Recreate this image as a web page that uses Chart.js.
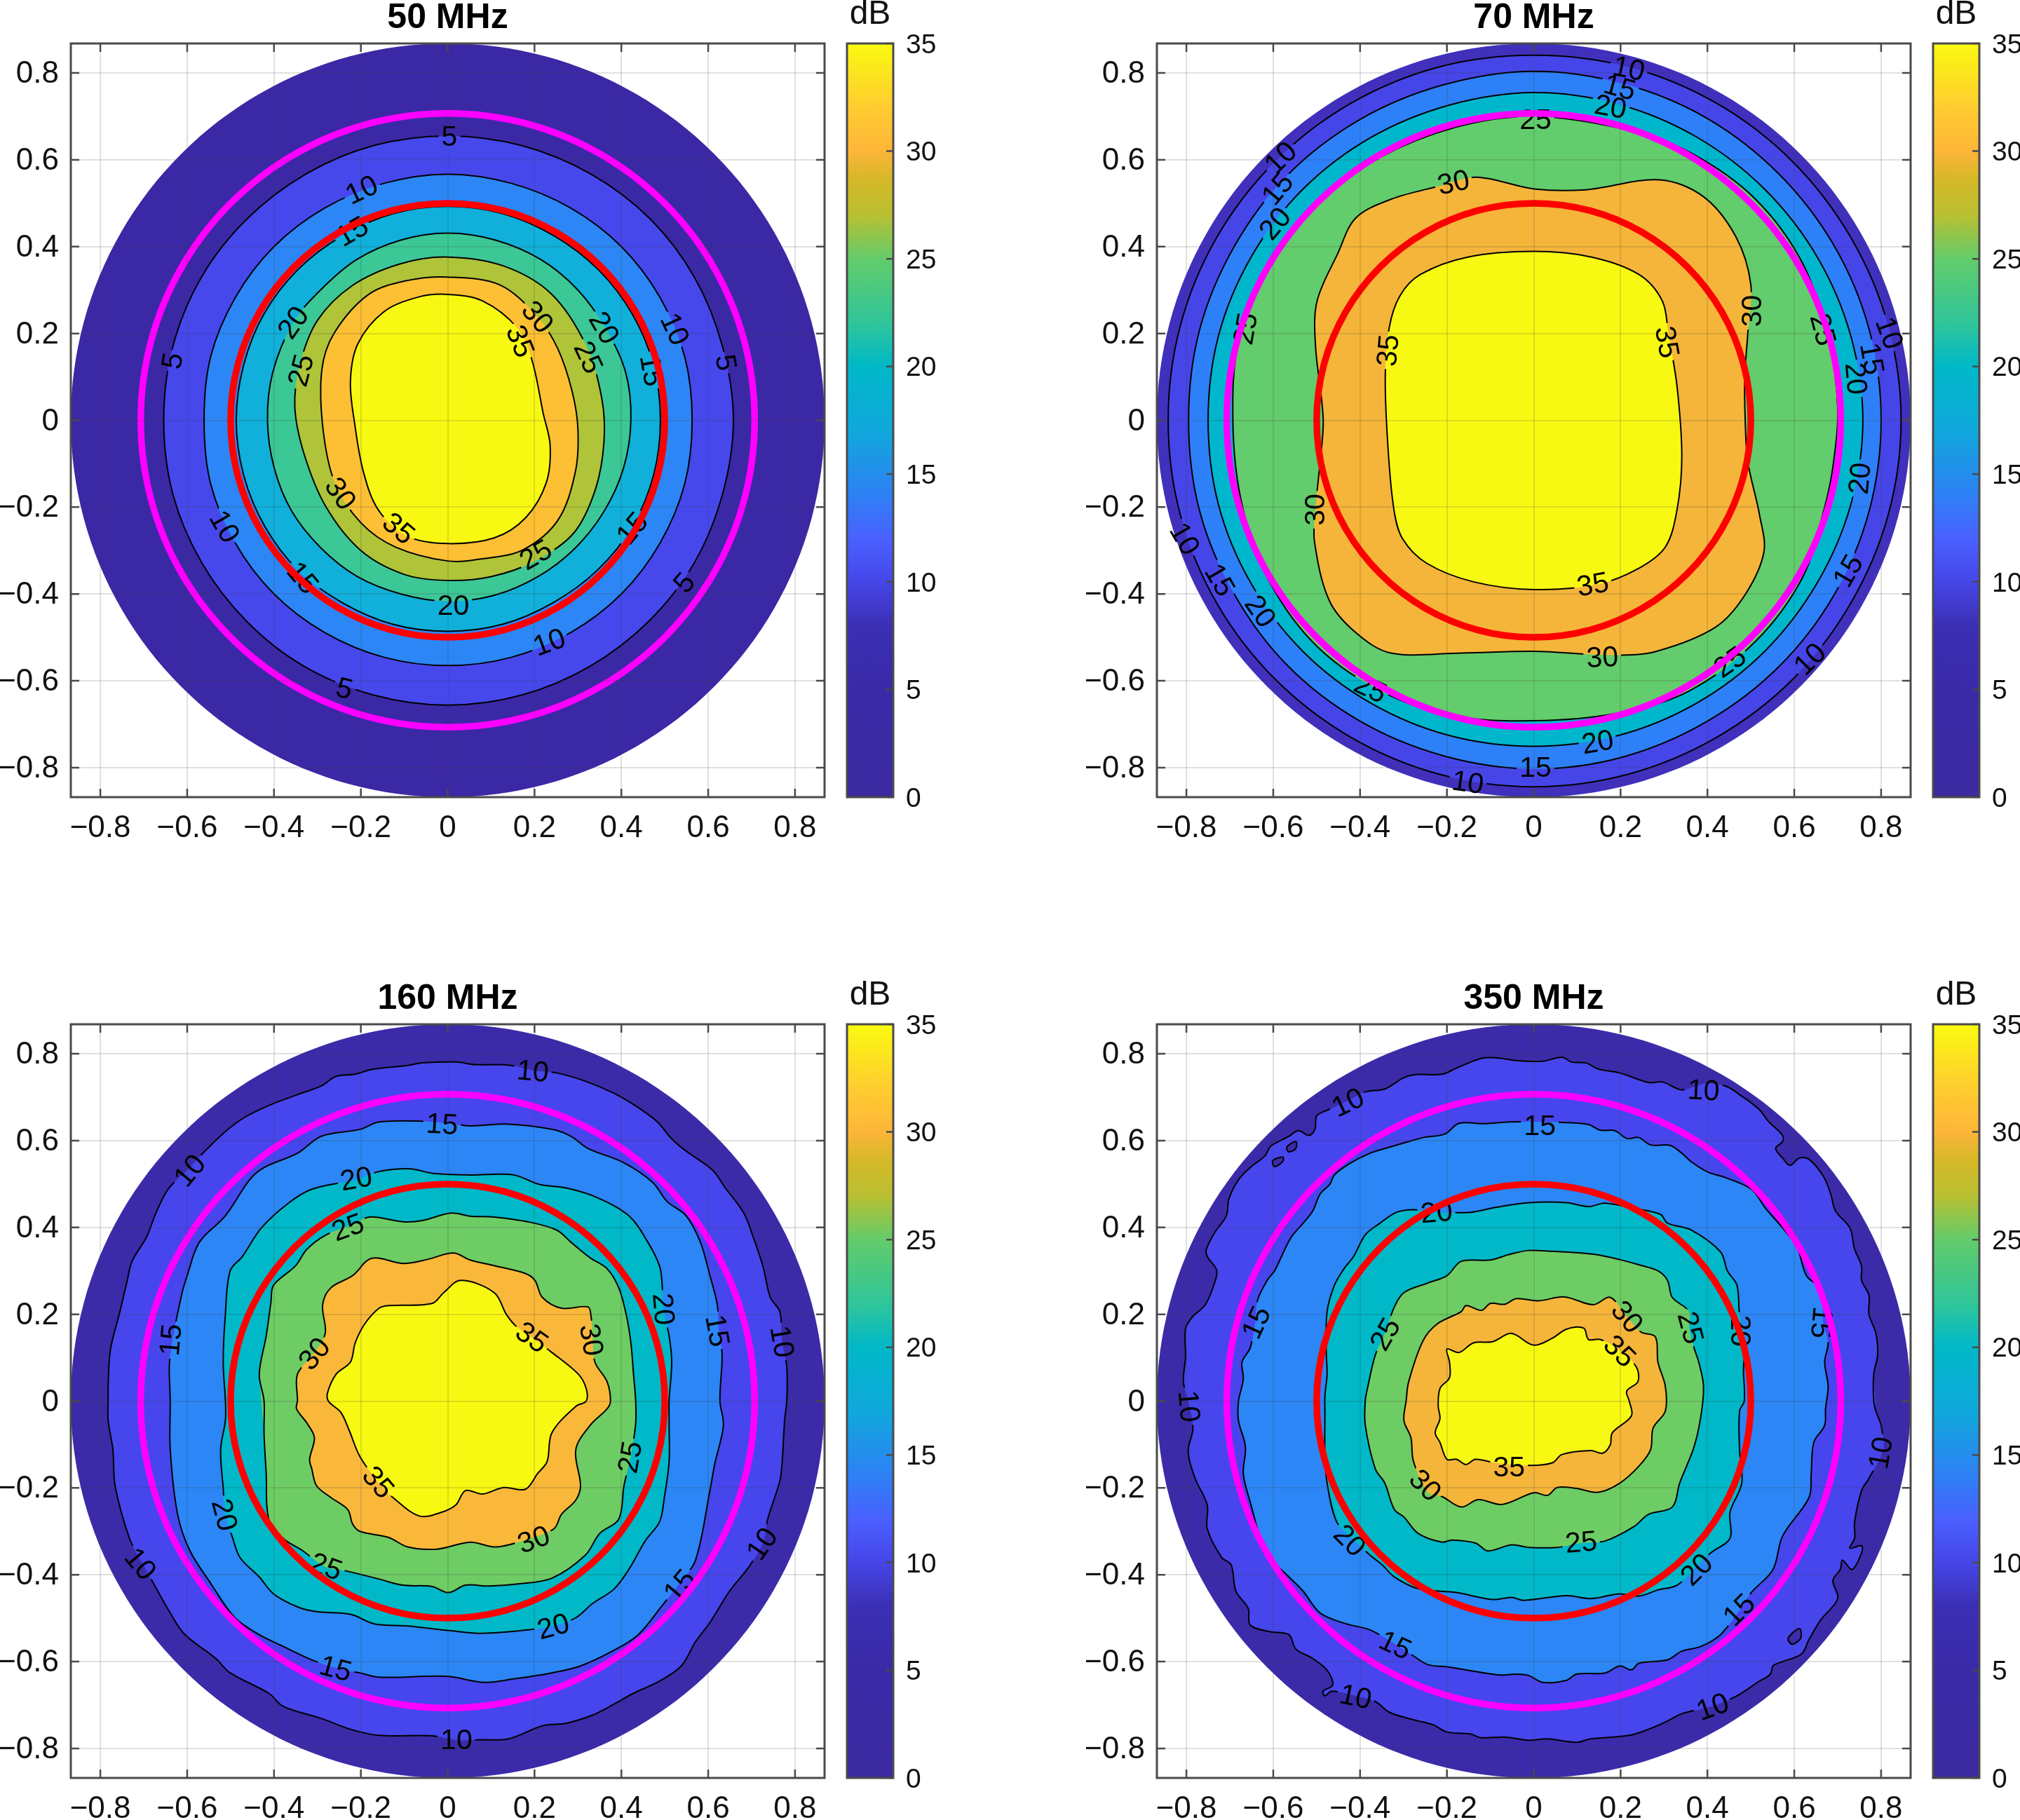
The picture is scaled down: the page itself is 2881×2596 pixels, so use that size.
<!DOCTYPE html>
<html>
<head>
<meta charset="utf-8">
<title>Beam patterns</title>
<script src="https://cdn.jsdelivr.net/npm/chart.js@4/dist/chart.umd.js"></script>
<style>
  body { margin: 0; background: #fff; }
  #page { position: relative; width: 2881px; height: 2596px; overflow: hidden; background: #fff; }
  canvas { position: absolute; }
</style>
</head>
<body>
<div id="page"></div>
<script>
// axis ticks and limits
const axisTicks = [-0.8, -0.6, -0.4, -0.2, 0, 0.2, 0.4, 0.6, 0.8];
const axisLimit = 0.868;
const barTicks = [0, 5, 10, 15, 20, 25, 30, 35];
const barLevels = [0, 5, 8, 10, 12, 14, 17, 20, 22, 25, 27, 28.7, 30, 32, 35];
const barColors = ['#3b2aa0', '#3a2aa8', '#3b2fb5', '#4646e8', '#4a60ff', '#2e80f5', '#10a8dc', '#00b8c8', '#2fc59a', '#62cc6a', '#b8c032', '#d6b828', '#fdb539', '#ffcc30', '#fafa10'];

// circles: unit circle table, scaled by the radii below
const circleX = [0, .259, .5, .707, .866, .966, 1, .966, .866, .707, .5, .259, 0, -.259, -.5, -.707, -.866, -.966, -1, -.966, -.866, -.707, -.5, -.259];
const circleY = [1, .966, .866, .707, .5, .259, 0, -.259, -.5, -.707, -.866, -.966, -1, -.966, -.866, -.707, -.5, -.259, 0, .259, .5, .707, .866, .966];
const discRadius = 0.868;
const magentaRadius = 0.707;
const redRadius = 0.5;

// contours, flat x,y pairs
const c50_5 = [0,.655, .17,.633, .33,.567, .465,.465, .568,.33, .633,.17, .658,0, .633,-.17, .567,-.33, .463,-.463, .327,-.567, .17,-.633, 0,-.656, -.17,-.633, -.33,-.567, -.463,-.463, -.567,-.327, -.633,-.17, -.654,0, -.633,.17, -.567,.33, -.463,.463, -.327,.567, -.17,.633];
const c50_10 = [0,.567, .146,.546, .283,.489, .4,.4, .489,.283, .546,.146, .563,0, .546,-.146, .489,-.283, .4,-.4, .283,-.489, .146,-.546, 0,-.565, -.146,-.546, -.283,-.489, -.4,-.4, -.489,-.283, -.546,-.146, -.561,0, -.546,.146, -.489,.283, -.4,.4, -.283,.489, -.146,.546];
const c50_15 = [0,.493, .127,.476, .245,.425, .347,.347, .425,.245, .474,.127, .49,0, .474,-.127, .425,-.245, .345,-.345, .243,-.42, .126,-.47, 0,-.486, -.126,-.47, -.243,-.42, -.345,-.345, -.422,-.243, -.47,-.126, -.487,0, -.47,.127, -.423,.245, -.345,.347, -.243,.425, -.126,.476];
const c50_20 = [0,.431, .11,.415, .215,.37, .3,.3, .365,.21, .41,.11, .422,0, .405,-.11, .36,-.21, .293,-.295, .208,-.36, .108,-.403, 0,-.417, -.108,-.4, -.208,-.36, -.293,-.293, -.36,-.208, -.4,-.108, -.415,0, -.403,.11, -.356,.225, -.293,.3, -.21,.37, -.108,.415];
const c50_25 = [0,.376, .13,.355, .24,.29, .32,.17, .355,.05, .36,-.05, .34,-.16, .29,-.26, .2,-.325, .1,-.36, 0,-.369, -.1,-.355, -.2,-.3, -.28,-.2, -.33,-.08, -.352,.03, -.34,.13, -.3,.23, -.22,.31, -.11,.36];
const c50_30 = [-.29,.115, -.262,.2, -.182,.29, -.093,.322, 0,.33, .12,.312, .207,.238, .254,.164, .287,.065, .30,-.021, .294,-.119, .254,-.23, .174,-.298, .08,-.319, 0,-.324, -.12,-.292, -.2,-.236, -.26,-.144, -.287,-.021];
const c50_35 = [-.224,.09, -.207,.176, -.147,.25, -.067,.284, 0,.29, .08,.275, .16,.213, .194,.139, .22,.016, .236,-.058, .227,-.144, .18,-.224, .107,-.271, 0,-.284, -.093,-.267, -.16,-.206, -.194,-.119, -.214,-.009];

const c70_10 = [0,.841, .218,.814, .4215,.73, .596,.596, .73,.4215, .816,.219, .846,0, .816,-.219, .73,-.4215, .596,-.597, .4215,-.73, .218,-.815, 0,-.844, -.218,-.815, -.4215,-.73, -.596,-.596, -.73,-.4215, -.814,-.218, -.842,0, -.814,.218, -.73,.4215, -.596,.596, -.4215,.73, -.218,.814];
const c70_15 = [0,.804, .207,.775, .40,.695, .566,.566, .693,.40, .773,.207, .80,0, .773,-.207, .693,-.40, .566,-.566, .40,-.693, .207,-.775, 0,-.803, -.207,-.773, -.40,-.693, -.566,-.566, -.69,-.40, -.77,-.207, -.795,0, -.77,.207, -.69,.40, -.566,.566, -.40,.693, -.207,.773];
const c70_20 = [0,.755, .195,.728, .376,.652, .532,.532, .653,.376, .73,.195, .758,0, .73,-.195, .652,-.376, .532,-.532, .376,-.651, .195,-.726, 0,-.751, -.195,-.726, -.376,-.651, -.532,-.532, -.651,-.376, -.726,-.195, -.75,0, -.726,.195, -.651,.376, -.532,.532, -.376,.651, -.195,.726];
const c70_25 = [0,.70, .215,.669, .36,.617, .51,.51, .62,.36, .68,.18, .70,.03, .69,-.1, .67,-.2, .62,-.36, .51,-.51, .355,-.625, .19,-.675, 0,-.692, -.19,-.68, -.36,-.62, -.51,-.51, -.62,-.35, -.675,-.18, -.693,0, -.68,.18, -.61,.36, -.50,.50, -.355,.605, -.18,.675];
const c70_30 = [-.132,.56, 0,.533, .12,.531, .289,.554, .391,.515, .466,.422, .5,.312, .493,.2, .486,.102, .487,0, .493,-.095, .52,-.218, .53,-.304, .486,-.403, .418,-.477, .283,-.532, .188,-.541, 0,-.532, -.166,-.536, -.329,-.536, -.41,-.489, -.471,-.415, -.505,-.28, -.503,-.206, -.492,-.095, -.485,.004, -.503,.176, -.499,.275, -.451,.385, -.41,.466, -.329,.509, -.22,.539];
const c70_35 = [0,.389, .133,.376, .242,.336, .296,.275, .31,.2, .33,.078, .341,-.083, .33,-.206, .303,-.292, .242,-.341, .147,-.378, 0,-.39, -.139,-.372, -.247,-.329, -.302,-.273, -.322,-.206, -.336,-.058, -.342,.102, -.333,.213, -.308,.287, -.261,.336, -.152,.376];

const c160_10 = [-.782,.001, -.782,.034, -.777,.117, -.755,.206, -.738,.278, -.727,.322, -.694,.377, -.672,.433, -.644,.488, -.6,.532, -.561,.574, -.512,.621, -.467,.654, -.412,.681, -.346,.706, -.291,.726, -.257,.748, -.213,.753, -.175,.764, -.092,.773, -.059,.779, .019,.781, .063,.775, .14,.774, .196,.762, .251,.756, .317,.737, .383,.709, .439,.676, .483,.643, .516,.604, .549,.576, .61,.532, .638,.493, .682,.433, .704,.377, .726,.311, .743,.239, .765,.206, .77,.139, .781,.079, .781,.001, .776,-.045, .77,-.145, .765,-.184, .737,-.272, .726,-.327, .693,-.383, .649,-.438, .604,-.51, .571,-.554, .538,-.61, .488,-.645, .428,-.673, .383,-.698, .334,-.723, .273,-.742, .218,-.748, .14,-.778, .074,-.78, .024,-.781, -.036,-.771, -.158,-.77, -.224,-.756, -.291,-.731, -.379,-.703, -.412,-.673, -.501,-.626, -.534,-.593, -.606,-.537, -.639,-.488, -.677,-.421, -.705,-.371, -.733,-.316, -.766,-.195, -.771,-.112, -.782,-.045];
const c160_15 = [-.639,.001, -.641,.084, -.633,.145, -.613,.244, -.6,.289, -.572,.366, -.512,.427, -.456,.51, -.423,.538, -.346,.571, -.291,.61, -.202,.626, -.158,.643, -.07,.645, -.003,.64, .052,.634, .14,.638, .24,.626, .284,.61, .323,.582, .406,.549, .472,.504, .505,.46, .549,.427, .582,.366, .604,.289, .621,.222, .624,.167, .632,.106, .627,.001, .635,-.056, .615,-.145, .604,-.206, .571,-.366, .533,-.421, .494,-.471, .439,-.538, .383,-.574, .306,-.61, .24,-.626, .151,-.64, .085,-.648, -.003,-.634, -.158,-.636, -.202,-.626, -.257,-.615, -.313,-.596, -.379,-.565, -.434,-.538, -.49,-.499, -.545,-.421, -.594,-.344, -.622,-.261, -.639,-.112];
const c160_20 = [-.512,.001, -.517,.09, -.512,.2, -.501,.3, -.473,.333, -.429,.399, -.368,.455, -.313,.488, -.213,.51, -.158,.529, -.086,.535, -.036,.525, .052,.521, .151,.521, .212,.499, .273,.491, .339,.471, .417,.427, .461,.366, .488,.311, .494,.267, .496,.217, .51,.15, .516,.09, .51,.001, .51,-.056, .51,-.139, .499,-.222, .488,-.278, .455,-.322, .417,-.388, .383,-.433, .334,-.466, .295,-.499, .245,-.518, .185,-.527, .08,-.535, .008,-.529, -.092,-.518, -.169,-.513, -.224,-.491, -.302,-.485, -.346,-.474, -.401,-.444, -.434,-.405, -.478,-.361, -.495,-.316, -.512,-.261, -.517,-.2, -.523,-.112, -.512,-.045];
const c160_25 = [-.423,.001, -.434,.062, -.418,.15, -.407,.228, -.401,.267, -.351,.311, -.324,.35, -.28,.383, -.224,.405, -.18,.424, -.103,.413, -.059,.416, .008,.433, .052,.426, .107,.424, .185,.413, .251,.394, .284,.366, .328,.33, .367,.305, .394,.261, .411,.2, .422,.134, .428,.062, .433,.001, .433,-.051, .422,-.126, .406,-.195, .394,-.272, .35,-.305, .317,-.355, .24,-.408, .162,-.421, .096,-.426, .041,-.424, .002,-.441, -.036,-.427, -.103,-.424, -.158,-.41, -.235,-.391, -.28,-.383, -.335,-.344, -.379,-.316, -.412,-.272, -.418,-.167, -.423,-.073];
const c160_30 = [-.346,.001, -.346,.062, -.307,.112, -.282,.156, -.288,.222, -.269,.261, -.219,.289, -.175,.329, -.103,.317, -.048,.326, .013,.341, .052,.325, .107,.312, .179,.294, .201,.278, .218,.239, .262,.214, .323,.217, .33,.197, .334,.145, .339,.09, .367,.045, .375,0, .367,-.018, .328,-.056, .295,-.112, .306,-.195, .295,-.228, .262,-.261, .245,-.294, .196,-.314, .113,-.336, .052,-.325, -.025,-.341, -.092,-.336, -.136,-.314, -.202,-.3, -.219,-.283, -.23,-.25, -.269,-.222, -.302,-.195, -.313,-.156, -.318,-.134, -.307,-.084, -.324,-.051, -.348,-.018];
const c160_35 = [-.277,.018, -.257,.062, -.224,.09, -.213,.134, -.191,.178, -.158,.214, -.136,.22, -.036,.225, -.009,.25, .03,.278, .107,.25, .135,.2, .157,.173, .196,.145, .24,.112, .301,.062, .319,.029, .319,0, .295,-.012, .24,-.073, .229,-.139, .207,-.167, .179,-.203, .129,-.199, .08,-.214, .041,-.206, .019,-.239, -.014,-.256, -.064,-.265, -.119,-.228, -.158,-.189, -.202,-.128, -.227,-.067, -.246,-.026, -.274,-.001];

const c350_10 = [.783,0, .783,.062, .792,.106, .788,.156, .772,.2, .772,.244, .755,.278, .755,.311, .739,.35, .728,.399, .695,.438, .684,.477, .667,.518, .634,.557, .612,.56, .59,.543, .573,.56, .557,.582, .573,.598, .573,.612, .54,.645, .518,.673, .474,.706, .441,.726, .391,.731, .341,.717, .297,.735, .264,.734, .198,.756, .148,.765, .12,.779, .087,.781, .065,.792, .021,.783, -.034,.784, -.089,.791, -.123,.789, -.178,.767, -.211,.753, -.272,.752, -.299,.745, -.343,.719, -.388,.712, -.432,.69, -.476,.67, -.5,.657, -.504,.626, -.518,.612, -.542,.623, -.564,.61, -.606,.587, -.619,.565, -.653,.538, -.68,.51, -.702,.466, -.708,.427, -.735,.388, -.754,.35, -.752,.333, -.73,.3, -.741,.256, -.758,.22, -.785,.195, -.802,.167, -.802,.101, -.807,.045, -.796,0, -.785,-.062, -.796,-.117, -.78,-.178, -.752,-.239, -.752,-.294, -.719,-.36, -.697,-.377, -.686,-.438, -.658,-.477, -.653,-.516, -.608,-.531, -.564,-.538, -.548,-.571, -.509,-.593, -.476,-.62, -.463,-.654, -.485,-.668, -.481,-.679, -.465,-.668, -.41,-.679, -.365,-.692, -.332,-.717, -.277,-.734, -.233,-.745, -.2,-.762, -.145,-.767, -.123,-.775, -.067,-.774, -.012,-.781, .032,-.778, .098,-.786, .131,-.778, .22,-.77, .264,-.756, .308,-.737, .341,-.72, .407,-.704, .468,-.679, .518,-.646, .545,-.629, .551,-.61, .573,-.6, .617,-.582, .634,-.549, .661,-.504, .7,-.455, .689,-.413, .706,-.388, .711,-.366, .733,-.388, .755,-.35, .755,-.333, .728,-.339, .739,-.316, .739,-.278, .755,-.206, .772,-.178, .805,-.112, .8,-.056, .788,-.023];
const c350_15 = [-.68,0, -.669,.051, -.672,.09, -.653,.123, -.641,.184, -.636,.233, -.614,.278, -.597,.3, -.581,.333, -.559,.377, -.531,.41, -.509,.438, -.492,.477, -.47,.499, -.459,.521, -.426,.546, -.377,.571, -.332,.585, -.288,.598, -.255,.607, -.205,.615, -.172,.64, -.112,.639, -.056,.643, .01,.643, .065,.642, .126,.637, .153,.624, .187,.623, .214,.605, .242,.607, .269,.59, .314,.589, .341,.571, .363,.551, .402,.527, .441,.515, .501,.488, .534,.444, .573,.399, .606,.355, .628,.289, .661,.256, .667,.178, .678,.134, .67,.09, .678,.034, .672,-.018, .67,-.056, .645,-.095, .639,-.167, .634,-.222, .573,-.311, .551,-.388, .501,-.441, .474,-.482, .43,-.538, .385,-.565, .341,-.576, .308,-.596, .242,-.604, .225,-.619, .198,-.61, .165,-.626, .098,-.629, .076,-.643, .021,-.648, -.012,-.632, -.045,-.629, -.078,-.631, -.2,-.612, -.244,-.607, -.277,-.587, -.316,-.562, -.377,-.527, -.432,-.513, -.492,-.488, -.531,-.438, -.564,-.405, -.597,-.372, -.625,-.327, -.653,-.233, -.669,-.167, -.664,-.106, -.68,-.045];
const c350_20 = [-.481,.012, -.476,.062, -.478,.117, -.476,.206, -.459,.267, -.437,.305, -.415,.333, -.388,.383, -.354,.41, -.316,.435, -.277,.441, -.227,.435, -.145,.435, -.089,.446, -.012,.457, .076,.457, .126,.448, .165,.456, .231,.444, .292,.43, .308,.41, .363,.394, .43,.344, .446,.3, .468,.267, .474,.2, .487,.145, .483,.073, .485,.001, .474,-.023, .474,-.112, .479,-.189, .452,-.256, .452,-.316, .407,-.35, .374,-.383, .33,-.424, .286,-.435, .242,-.449, .198,-.444, .131,-.455, .076,-.448, -.023,-.459, -.051,-.452, -.095,-.457, -.178,-.441, -.266,-.432, -.321,-.405, -.349,-.377, -.377,-.355, -.421,-.314, -.454,-.278, -.476,-.189, -.481,-.123, -.481,-.034];
const c350_25 = [-.388,.001, -.382,.034, -.365,.106, -.343,.156, -.321,.217, -.299,.25, -.244,.272, -.2,.289, -.167,.322, -.1,.325, -.056,.338, -.012,.347, .043,.345, .109,.341, .153,.336, .198,.326, .242,.314, .286,.3, .308,.278, .319,.239, .358,.206, .358,.167, .369,.123, .38,.09, .391,.034, .385,-.034, .369,-.106, .336,-.189, .319,-.244, .264,-.261, .231,-.289, .165,-.322, .109,-.327, .054,-.337, -.012,-.337, -.051,-.331, -.106,-.345, -.134,-.327, -.189,-.32, -.211,-.325, -.266,-.305, -.299,-.267, -.321,-.25, -.343,-.189, -.365,-.156, -.388,-.056];
const c350_30 = [-.294,0, -.288,.045, -.255,.139, -.222,.178, -.167,.206, -.156,.22, -.12,.209, -.1,.225, -.067,.223, -.04,.236, .01,.231, .071,.24, .137,.222, .176,.239, .214,.195, .247,.159, .28,.148, .286,.09, .303,.034, .303,-.023, .275,-.062, .269,-.112, .242,-.15, .198,-.189, .148,-.21, .098,-.201, .054,-.199, .032,-.217, 0,-.211, -.073,-.238, -.128,-.227, -.167,-.244, -.211,-.22, -.244,-.21, -.277,-.139, -.283,-.084, -.299,-.045];
const c350_35 = [-.216,.029, -.194,.054, -.194,.09, -.2,.12, -.172,.112, -.139,.134, -.095,.137, -.051,.156, -.001,.129, .043,.145, .076,.166, .115,.168, .126,.142, .153,.142, .198,.117, .236,.079, .24,.045, .214,.023, .22,0, .225,-.034, .181,-.073, .176,-.101, .159,-.12, .131,-.114, .065,-.123, .043,-.142, -.007,-.148, -.089,-.142, -.134,-.134, -.156,-.146, -.178,-.134, -.2,-.134, -.216,-.095, -.227,-.073, -.216,-.04, -.22,-.012];
const i350_a = [-.578,.562, -.578,.552, -.597,.54, -.601,.554];
const i350_b = [-.548,.598, -.548,.582, -.564,.574, -.569,.585];
const i350_c = [.612,-.524, .615,-.546, .595,-.56, .586,-.546];

// contour labels: x, y, rotation in degrees, text
const labels50 = [[.004,.654,0,'5'],[-.198,.531,-25,'10'],[-.22,.435,-30,'15'],[-.356,.225,-55,'20'],[-.338,.115,-75,'25'],[.207,.238,50,'30'],[.167,.182,68,'35'],[.36,.213,60,'20'],[.324,.145,65,'25'],[.523,.21,65,'10'],[.47,.115,80,'15'],[.641,.133,80,'5'],[-.634,.137,-80,'5'],[-.247,-.169,55,'30'],[-.113,-.249,40,'35'],[.203,-.31,-30,'25'],[.013,-.427,0,'20'],[.234,-.511,-20,'10'],[-.238,-.618,15,'5'],[.545,-.374,-50,'5'],[.425,-.249,-50,'15'],[-.334,-.363,50,'15'],[-.514,-.245,60,'10']];
const labels70 = [[.219,.81,12,'10'],[.198,.767,15,'15'],[.177,.722,10,'20'],[.004,.693,0,'25'],[-.583,.605,-45,'10'],[-.59,.533,-50,'15'],[-.596,.453,-50,'20'],[-.664,.211,-80,'25'],[-.185,.548,-12,'30'],[-.336,.161,-85,'35'],[.307,.18,80,'35'],[.503,.252,-90,'30'],[.666,.209,75,'25'],[.819,.201,70,'10'],[.779,.142,80,'15'],[.742,.096,85,'20'],[.751,-.134,-85,'20'],[.724,-.347,-60,'15'],[.636,-.55,-45,'10'],[.452,-.557,-35,'25'],[.158,-.546,-3,'30'],[.136,-.378,-10,'35'],[-.503,-.206,-90,'30'],[-.804,-.273,60,'10'],[-.723,-.368,60,'15'],[-.63,-.44,55,'20'],[-.376,-.618,25,'25'],[.147,-.741,-10,'20'],[.004,-.8,0,'15'],[-.152,-.834,8,'10']];
const labels160 = [[.196,.76,5,'10'],[-.594,.531,-50,'10'],[-.013,.638,3,'15'],[-.211,.512,-10,'20'],[-.23,.4,-20,'25'],[-.307,.109,-50,'30'],[.194,.147,35,'35'],[.331,.141,80,'30'],[.497,.212,85,'20'],[.621,.162,80,'15'],[.77,.137,80,'10'],[-.638,.141,-85,'15'],[-.16,-.187,50,'35'],[.42,-.129,-80,'25'],[.724,-.329,-55,'10'],[-.514,-.262,75,'20'],[-.708,-.375,50,'10'],[-.28,-.381,20,'25'],[.198,-.319,-20,'30'],[.243,-.519,-15,'20'],[.534,-.425,-50,'15'],[-.258,-.616,15,'15'],[.02,-.781,0,'10']];
const labels350 = [[-.428,.688,-25,'10'],[.391,.716,3,'10'],[.014,.635,0,'15'],[-.224,.435,-5,'20'],[-.342,.154,-60,'25'],[-.639,.181,-65,'15'],[.215,.194,50,'30'],[.198,.115,45,'35'],[.361,.169,75,'25'],[.476,.162,90,'20'],[.663,.181,95,'15'],[-.794,-.012,85,'10'],[.799,-.119,-80,'10'],[-.057,-.152,0,'35'],[-.25,-.194,45,'30'],[.109,-.325,-5,'25'],[-.424,-.321,45,'20'],[.375,-.388,-45,'20'],[.473,-.481,-45,'15'],[-.319,-.562,25,'15'],[.412,-.704,-20,'10'],[-.41,-.681,12,'10']];

// band fills, outermost first
const bands50 = ['#3b28a5', '#4648ec', '#2c86f5', '#10b0da', '#3cc796', '#afc438', '#fdc034', '#f8f912'];
const bands70 = ['#4030bc', '#4646e8', '#2e80f8', '#00b6cc', '#63cc6c', '#f5b53a', '#f8f912'];
const bands160 = ['#3b2ba8', '#4646ec', '#2c86f5', '#00b8c8', '#6ecc64', '#fab83a', '#f8f912'];
const bands350 = ['#3b2ba8', '#4646ec', '#2c86f5', '#00b8c8', '#6ecc64', '#f5b53a', '#f8f912'];

const panels = [
  { title: '50 MHz', left: 0, top: 0, bands: bands50, labels: labels50, levels: [5, 10, 15, 20, 25, 30, 35], contours: [c50_5, c50_10, c50_15, c50_20, c50_25, c50_30, c50_35], islands: [] },
  { title: '70 MHz', left: 1549, top: 0, bands: bands70, labels: labels70, levels: [10, 15, 20, 25, 30, 35], contours: [c70_10, c70_15, c70_20, c70_25, c70_30, c70_35], islands: [] },
  { title: '160 MHz', left: 0, top: 1399, bands: bands160, labels: labels160, levels: [10, 15, 20, 25, 30, 35], contours: [c160_10, c160_15, c160_20, c160_25, c160_30, c160_35], islands: [] },
  { title: '350 MHz', left: 1549, top: 1399, bands: bands350, labels: labels350, levels: [10, 15, 20, 25, 30, 35], contours: [c350_10, c350_15, c350_20, c350_25, c350_30, c350_35], islands: [i350_a, i350_b, i350_c] }
];

const fontFamily = '"Liberation Sans", Arial, sans-serif';
const labelSize = 41;
const frameColor = '#4a4a4a';

// flat pairs to points, with overlap so the spline closes without a kink
function loopPoints(flat) {
  const pts = [];
  for (let i = 0; i < flat.length; i += 2) pts.push({ x: flat[i], y: flat[i + 1] });
  return [pts[pts.length - 1], ...pts, pts[0], pts[1]];
}

function circlePoints(r) {
  const flat = [];
  circleX.forEach((x, i) => flat.push(x * r, circleY[i] * r));
  return loopPoints(flat);
}

// the overlap segments are only there for the tangents, keep them from being stroked
const hideOverlap = {
  borderColor: c => (c.p0DataIndex === 0 || c.p1DataIndex === c.chart.getDatasetMeta(c.datasetIndex).data.length - 1) ? 'transparent' : undefined
};

function fillSet(points, color) {
  return { data: points, showLine: true, fill: 'shape', backgroundColor: color, borderWidth: 0, pointRadius: 0, tension: 0.34 };
}

function lineSet(points, level) {
  return { data: points, showLine: true, fill: false, borderColor: '#000', borderWidth: 2, pointRadius: 0, tension: 0.34, level: level, segment: hideOverlap };
}

function ringSet(r, color) {
  return { data: circlePoints(r), showLine: true, fill: false, borderColor: color, borderWidth: 9.5, pointRadius: 0, tension: 0.34, segment: hideOverlap };
}

// frame and inward tick marks, on all four sides
const framePlugin = {
  id: 'frame',
  afterDraw(chart) {
    const { ctx, chartArea: a, scales } = chart;
    ctx.save();
    ctx.strokeStyle = frameColor;
    ctx.lineWidth = 2.5;
    ctx.beginPath();
    scales.x.ticks.forEach(t => {
      const px = scales.x.getPixelForValue(t.value);
      ctx.moveTo(px, a.bottom); ctx.lineTo(px, a.bottom - 12);
      ctx.moveTo(px, a.top); ctx.lineTo(px, a.top + 12);
    });
    scales.y.ticks.forEach(t => {
      const py = scales.y.getPixelForValue(t.value);
      ctx.moveTo(a.left, py); ctx.lineTo(a.left + 12, py);
      ctx.moveTo(a.right, py); ctx.lineTo(a.right - 12, py);
    });
    ctx.stroke();
    ctx.lineWidth = 3;
    ctx.strokeRect(a.left, a.top, a.right - a.left, a.bottom - a.top);
    ctx.restore();
  }
};

// breaks each contour line under its own labels, draws the labels after the last line
const labelPlugin = {
  id: 'contourLabels',
  beforeDatasetDraw(chart, args) {
    const ds = chart.data.datasets[args.index];
    if (!ds.level) return;
    const { ctx, scales, width, height } = chart;
    ctx.save();
    ctx.beginPath();
    ctx.rect(0, 0, width, height);
    ctx.font = labelSize + 'px ' + fontFamily;
    chart.options.plugins.contourLabels.items.filter(l => l[3] === String(ds.level)).forEach(l => {
      const px = scales.x.getPixelForValue(l[0]);
      const py = scales.y.getPixelForValue(l[1]);
      const a = l[2] * Math.PI / 180;
      const hw = ctx.measureText(l[3]).width / 2 + 4;
      const hh = 24;
      const cs = Math.cos(a), sn = Math.sin(a);
      ctx.moveTo(px - hw * cs + hh * sn, py - hw * sn - hh * cs);
      ctx.lineTo(px + hw * cs + hh * sn, py + hw * sn - hh * cs);
      ctx.lineTo(px + hw * cs - hh * sn, py + hw * sn + hh * cs);
      ctx.lineTo(px - hw * cs - hh * sn, py - hw * sn + hh * cs);
      ctx.closePath();
    });
    ctx.clip('evenodd');
  },
  afterDatasetDraw(chart, args) {
    const ds = chart.data.datasets[args.index];
    if (!ds.level) return;
    const { ctx, scales } = chart;
    ctx.restore();
    if (!ds.lastLine) return;
    ctx.save();
    ctx.fillStyle = '#000';
    ctx.font = labelSize + 'px ' + fontFamily;
    ctx.textAlign = 'center';
    ctx.textBaseline = 'middle';
    chart.options.plugins.contourLabels.items.forEach(l => {
      ctx.save();
      ctx.translate(scales.x.getPixelForValue(l[0]), scales.y.getPixelForValue(l[1]));
      ctx.rotate(l[2] * Math.PI / 180);
      ctx.fillText(l[3], 0, 2);
      ctx.restore();
    });
    ctx.restore();
  }
};

function tickText(v) {
  if (v === 0) return '0';
  return v < 0 ? '\u2212' + Math.abs(v) : String(v);
}

function addCanvas(left, top, w, h) {
  const c = document.createElement('canvas');
  c.width = w;
  c.height = h;
  c.style.left = left + 'px';
  c.style.top = top + 'px';
  c.style.width = w + 'px';
  c.style.height = h + 'px';
  document.getElementById('page').appendChild(c);
  return c;
}

function axisOptions(isX) {
  return {
    type: 'linear',
    position: isX ? 'bottom' : 'left',
    min: -axisLimit,
    max: axisLimit,
    afterBuildTicks: s => { s.ticks = axisTicks.map(v => ({ value: v })); },
    afterFit: s => { if (isX) s.height = 75; else s.width = 101; },
    grid: { color: 'rgba(60,60,60,0.16)', lineWidth: 2, drawTicks: false, z: 1 },
    border: { display: false },
    ticks: {
      autoSkip: false,
      maxRotation: 0,
      padding: isX ? 18 : 17,
      labelOffset: isX ? 0 : 2,
      color: '#111',
      font: { family: fontFamily, size: 44 },
      callback: v => tickText(v)
    }
  };
}

panels.forEach(p => {
  // the chart draws the first dataset on top, so build bottom-up and reverse
  const sets = [fillSet(circlePoints(discRadius), p.bands[0])];
  p.contours.forEach((c, i) => {
    sets.push(fillSet(loopPoints(c), p.bands[i + 1]));
    if (i === 0) p.islands.forEach(isl => sets.push(fillSet(loopPoints(isl), p.bands[0])));
  });
  p.contours.forEach((c, i) => sets.push(lineSet(loopPoints(c), p.levels[i])));
  p.islands.forEach(isl => sets.push(lineSet(loopPoints(isl), 1)));
  sets[sets.length - 1].lastLine = true;
  sets.push(ringSet(magentaRadius, '#ff00ff'));
  sets.push(ringSet(redRadius, '#ff0000'));
  sets.reverse();

  new Chart(addCanvas(p.left, p.top, 1277, 1212), {
    type: 'scatter',
    data: { datasets: sets },
    plugins: [labelPlugin, framePlugin],
    options: {
      responsive: false,
      animation: false,
      layout: { padding: { right: 101 } },
      events: [],
      plugins: {
        legend: { display: false },
        tooltip: { enabled: false },
        title: {
          display: true,
          fullSize: false,
          text: p.title,
          color: '#000',
          font: { family: fontFamily, size: 50, weight: 'bold', lineHeight: 1 },
          padding: { top: 1, bottom: 11 }
        },
        contourLabels: { items: p.labels }
      },
      scales: { x: axisOptions(true), y: axisOptions(false) }
    }
  });

  // colorbar
  new Chart(addCanvas(p.left + 1136, p.top, 210, 1212), {
    type: 'bar',
    data: {
      labels: ['dB'],
      datasets: [{
        data: [[0, 35]],
        barPercentage: 1,
        categoryPercentage: 1,
        borderWidth: 0,
        backgroundColor: c => {
          const y = c.chart.scales.y;
          if (!c.chart.chartArea || !y || !isFinite(y.getPixelForValue(0))) return barColors[0];
          const g = c.chart.ctx.createLinearGradient(0, y.getPixelForValue(0), 0, y.getPixelForValue(35));
          barLevels.forEach((v, i) => g.addColorStop(v / 35, barColors[i]));
          return g;
        }
      }]
    },
    plugins: [{
      id: 'barFrame',
      afterDraw(chart) {
        const { ctx, chartArea: a, scales } = chart;
        ctx.save();
        ctx.strokeStyle = frameColor;
        ctx.lineWidth = 2.5;
        ctx.beginPath();
        scales.y.ticks.forEach(t => {
          const py = scales.y.getPixelForValue(t.value);
          ctx.moveTo(a.right, py); ctx.lineTo(a.right - 10, py);
        });
        ctx.stroke();
        ctx.lineWidth = 3;
        ctx.strokeRect(a.left, a.top, a.right - a.left, a.bottom - a.top);
        ctx.restore();
      }
    }],
    options: {
      responsive: false,
      animation: false,
      events: [],
      layout: { padding: { left: 72, bottom: 75 } },
      plugins: {
        legend: { display: false },
        tooltip: { enabled: false },
        title: {
          display: true,
          fullSize: false,
          text: 'dB',
          color: '#111',
          font: { family: fontFamily, size: 48, weight: 'normal', lineHeight: 1 },
          padding: { top: -3, bottom: 17 }
        }
      },
      scales: {
        x: { display: false },
        y: {
          position: 'right',
          min: 0,
          max: 35,
          afterBuildTicks: s => { s.ticks = barTicks.map(v => ({ value: v })); },
          afterFit: s => { s.width = 72; },
          grid: { display: false, drawTicks: false },
          border: { display: false },
          ticks: { autoSkip: false, padding: 18, labelOffset: 3, color: '#111', font: { family: fontFamily, size: 39 } }
        }
      }
    }
  });
});
</script>
</body>
</html>
